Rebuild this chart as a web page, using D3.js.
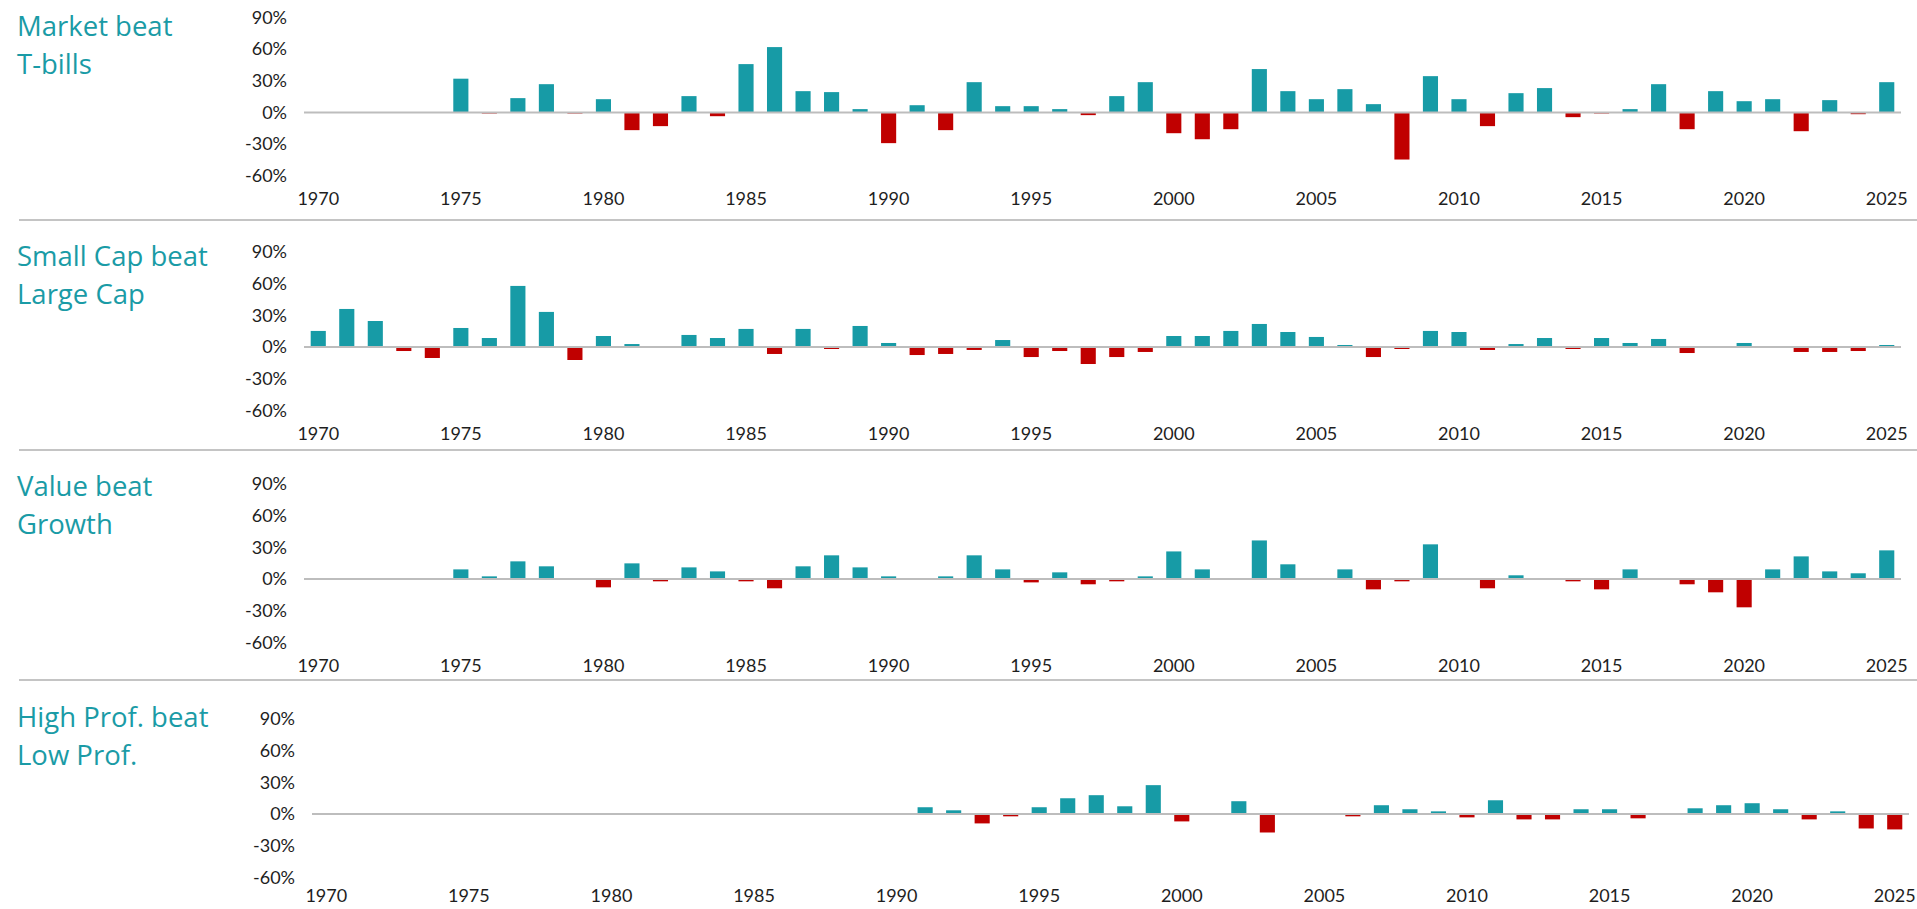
<!DOCTYPE html>
<html lang="en">
<head>
<meta charset="UTF-8">
<script src="https://d3js.org/d3.v7.min.js"></script>
<style>
  body { margin: 0; background: #fff; }
  .title { font-family: "Open Sans", Lato, sans-serif; font-size: 27.5px; fill: #1a9ba6; }
  .axis text { font-family: Lato, sans-serif; font-size: 18px; fill: #1e1e1e; }
  .axis path, .axis line { display: none; }
</style>
</head>
<body>
<div id="chart"></div>
<script>
// categories
const years = d3.range(1970, 2026);
const yearTicks = [1970, 1975, 1980, 1985, 1990, 1995, 2000, 2005, 2010, 2015, 2020, 2025];
const pctTicks = [-60, -30, 0, 30, 60, 90];

const titles = [
  ["Market beat", "T-bills"],
  ["Small Cap beat", "Large Cap"],
  ["Value beat", "Growth"],
  ["High Prof. beat", "Low Prof."]
];

// premium by year, 1970..2025 (null = no data)
const marketTbills = [null, null, null, null, null,
  32, -0.6, 13.6, 26.8, -0.6, 12.6, -16.7, -12.9, 15.5, -3.5,
  45.8, 61.9, 20.2, 19.3, 3.2, -29, 6.9, -16.7, 28.7, 6.0,
  6.0, 3.2, -2.5, 15.5, 28.7, -19.6, -25.3, -15.8, 41.1, 20.2,
  12.6, 22.1, 7.9, -44.5, 34.4, 12.6, -12.9, 18.3, 23.1, -4.4,
  -0.6, 3.2, 26.8, -15.8, 20.2, 10.7, 12.6, -17.7, 11.7, -1.6, 28.7];

const smallLarge = [15.2, 36.0, 24.6, -3.8, -10.4,
  18.0, 8.5, 57.8, 33.2, -12.3, 10.4, 2.8, 0.9, 11.4, 8.5,
  17.1, -6.6, 17.1, -1.9, 19.9, 3.8, -7.6, -6.6, -2.8, 6.6,
  -9.5, -3.8, -16.1, -9.5, -4.7, 10.4, 10.4, 15.2, 21.8, 14.2,
  9.5, 1.9, -9.5, -1.9, 15.2, 14.2, -2.8, 2.8, 8.5, -1.9,
  8.5, 3.8, 7.6, -5.7, 0.9, 3.8, -0.5, -4.7, -4.7, -3.8, 1.9];

const valueGrowth = [null, null, null, null, null,
  9.1, 2.5, 16.7, 12.0, -0.5, -7.9, 14.8, -2.2, 11.0, 7.2,
  -2.2, -8.8, 12.0, 22.4, 11.0, 2.5, -0.5, 2.5, 22.4, 9.1,
  -3.2, 6.3, -5.0, -2.2, 2.5, 26.1, 9.1, -0.5, 36.5, 13.9,
  0.6, 9.1, -9.8, -2.2, 32.8, 0.3, -8.8, 3.5, -0.5, -2.2,
  -9.8, 9.1, -0.5, -5.0, -12.6, -26.8, 9.1, 21.4, 7.2, 5.4, 27.1];

const highLowProf = [null, null, null, null, null,
  null, null, null, null, null, null, null, null, null, null,
  null, null, null, null, null, null,
  6.4, 3.5, -8.9, -2.2, 6.4, 14.9, 17.8, 7.3, 27.3, -7.0,
  -0.5, 12.1, -17.5, -0.5, 0.5, -2.2, 8.3, 4.5, 2.5, -3.2,
  13.0, -5.1, -5.1, 4.5, 4.5, -4.1, -0.5, 5.4, 8.3, 10.2,
  4.5, -5.1, 2.5, -13.7, -14.6];

const series = [marketTbills, smallLarge, valueGrowth, highLowProf];

const w = 1917, h = 909;
const teal = "#179ba6", red = "#c00000";

// layout per panel
const zeroY = [112.5, 347, 579, 814];
const titleY = [36, 266, 496, 727];
const xLeft = [304, 304, 304, 312];
const xLabelOff = [80, 80, 80, 75];
const plotW = 1597;
const separators = [220, 450, 680];

const svg = d3.select("#chart").append("svg")
  .attr("width", w)
  .attr("height", h);

svg.selectAll("line.sep")
  .data(separators)
  .enter().append("line")
  .attr("class", "sep")
  .attr("x1", 19).attr("x2", w)
  .attr("y1", d => d).attr("y2", d => d)
  .attr("stroke", "#c4c4c4")
  .attr("stroke-width", 2);

series.forEach((vals, p) => {
  const z = zeroY[p];
  const x = d3.scaleBand()
    .domain(years)
    .range([xLeft[p], xLeft[p] + plotW])
    .paddingInner(0.47)
    .paddingOuter(0.235);

  const y = d3.scaleLinear()
    .domain([-60, 90])
    .range([z + 63.4, z - 95.1]);

  const g = svg.append("g");

  // title, two lines
  g.selectAll("text.title")
    .data(titles[p])
    .enter().append("text")
    .attr("class", "title")
    .attr("x", 17)
    .attr("y", (d, i) => titleY[p] + i * 38)
    .text(d => d);

  // y axis
  g.append("g")
    .attr("class", "axis")
    .attr("transform", "translate(" + (xLeft[p] - 17) + ",0)")
    .call(d3.axisLeft(y).tickValues(pctTicks).tickSize(0).tickPadding(0).tickFormat(d => d + "%"));

  // x axis
  g.append("g")
    .attr("class", "axis")
    .attr("transform", "translate(0," + (z + xLabelOff[p]) + ")")
    .call(d3.axisBottom(x).tickValues(yearTicks).tickSize(0).tickPadding(0));

  const data = years.map((yr, i) => ({ year: yr, v: vals[i] })).filter(d => d.v !== null);

  g.selectAll("rect")
    .data(data)
    .enter().append("rect")
    .attr("x", d => x(d.year))
    .attr("width", x.bandwidth())
    .attr("y", d => d.v >= 0 ? y(d.v) : y(0))
    .attr("height", d => Math.max(Math.abs(y(d.v) - y(0)), 1))
    .attr("fill", d => d.v >= 0 ? teal : red);

  // zero line
  g.append("line")
    .attr("x1", x.range()[0]).attr("x2", x.range()[1])
    .attr("y1", y(0)).attr("y2", y(0))
    .attr("stroke", "#bdbdbd")
    .attr("stroke-width", 2);
});
</script>
</body>
</html>
